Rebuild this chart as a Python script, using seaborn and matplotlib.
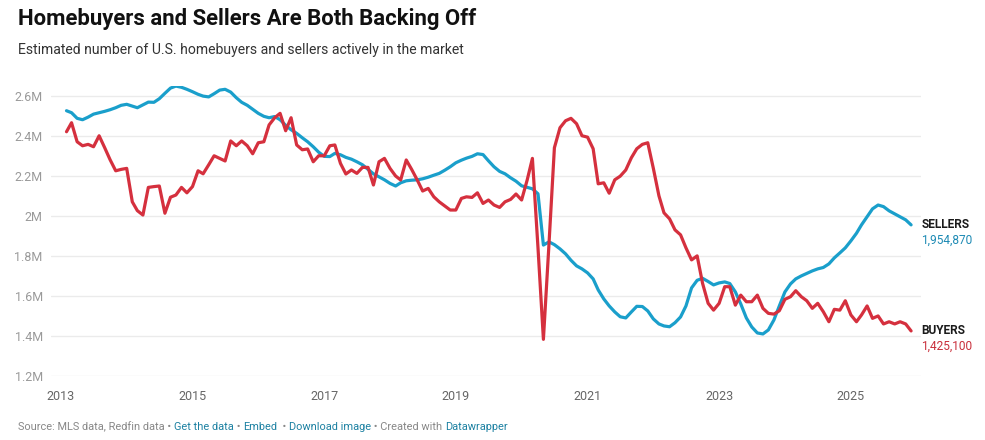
import numpy as np
import pandas as pd
import matplotlib
matplotlib.use("Agg")
import matplotlib.pyplot as plt
import seaborn as sns

# ---- data (millions), monthly Feb 2013 .. Dec 2025 ----
start_month = "2013-02-01"
sellers = [
    2.525, 2.515, 2.487, 2.480, 2.493, 2.508, 2.515, 2.522, 2.530, 2.540, 2.552, 2.557,
    2.548, 2.540, 2.554, 2.568, 2.567, 2.585, 2.612, 2.638, 2.648, 2.642, 2.632, 2.620,
    2.607, 2.598, 2.594, 2.610, 2.628, 2.632, 2.618, 2.590, 2.567, 2.552, 2.532, 2.512,
    2.497, 2.490, 2.496, 2.480, 2.452, 2.430, 2.412, 2.390, 2.370, 2.345, 2.318, 2.297,
    2.296, 2.312, 2.305, 2.292, 2.283, 2.270, 2.255, 2.232, 2.210, 2.195, 2.180, 2.162,
    2.149, 2.165, 2.175, 2.178, 2.180, 2.185, 2.193, 2.203, 2.212, 2.228, 2.245, 2.265,
    2.278, 2.288, 2.297, 2.310, 2.306, 2.275, 2.245, 2.222, 2.210, 2.190, 2.173, 2.150,
    2.142, 2.135, 2.110, 1.854, 1.870, 1.856, 1.835, 1.810, 1.778, 1.750, 1.735, 1.715,
    1.685, 1.630, 1.585, 1.550, 1.520, 1.496, 1.490, 1.520, 1.548, 1.547, 1.525, 1.485,
    1.460, 1.450, 1.446, 1.466, 1.495, 1.550, 1.640, 1.678, 1.688, 1.672, 1.655, 1.665,
    1.670, 1.662, 1.620, 1.560, 1.490, 1.445, 1.415, 1.410, 1.430, 1.480, 1.550, 1.620,
    1.660, 1.685, 1.700, 1.712, 1.725, 1.735, 1.742, 1.760, 1.790, 1.815, 1.840, 1.875,
    1.913, 1.955, 1.996, 2.035, 2.054, 2.046, 2.025, 2.010, 1.995, 1.980, 1.95487,
]
buyers = [
    2.420, 2.465, 2.370, 2.350, 2.357, 2.345, 2.400, 2.340, 2.280, 2.225, 2.232, 2.237,
    2.070, 2.026, 2.004, 2.142, 2.146, 2.149, 2.013, 2.093, 2.104, 2.142, 2.115, 2.146,
    2.225, 2.210, 2.255, 2.300, 2.287, 2.274, 2.374, 2.350, 2.374, 2.350, 2.310, 2.365,
    2.370, 2.454, 2.490, 2.512, 2.425, 2.490, 2.354, 2.330, 2.334, 2.270, 2.300, 2.300,
    2.350, 2.354, 2.262, 2.209, 2.229, 2.212, 2.242, 2.242, 2.154, 2.270, 2.287, 2.237,
    2.199, 2.179, 2.279, 2.232, 2.179, 2.124, 2.137, 2.095, 2.070, 2.049, 2.029, 2.029,
    2.087, 2.095, 2.092, 2.115, 2.062, 2.079, 2.054, 2.042, 2.070, 2.082, 2.109, 2.079,
    2.179, 2.287, 1.840, 1.383, 1.860, 2.340, 2.440, 2.475, 2.487, 2.460, 2.400, 2.393,
    2.335, 2.160, 2.165, 2.113, 2.180, 2.198, 2.229, 2.290, 2.335, 2.357, 2.365, 2.237,
    2.100, 2.015, 1.985, 1.930, 1.905, 1.840, 1.780, 1.800, 1.663, 1.563, 1.529, 1.563,
    1.646, 1.646, 1.554, 1.604, 1.571, 1.571, 1.604, 1.538, 1.513, 1.509, 1.526, 1.583,
    1.596, 1.626, 1.596, 1.576, 1.538, 1.563, 1.521, 1.471, 1.533, 1.529, 1.576, 1.505,
    1.471, 1.505, 1.550, 1.488, 1.500, 1.460, 1.471, 1.460, 1.471, 1.460, 1.4251,
]
series_names = ["SELLERS", "BUYERS"]
end_values = ["1,954,870", "1,425,100"]
y_ticks = [1.2, 1.4, 1.6, 1.8, 2.0, 2.2, 2.4, 2.6]
x_tick_years = [2013, 2015, 2017, 2019, 2021, 2023, 2025]

title = "Homebuyers and Sellers Are Both Backing Off"
subtitle = "Estimated number of U.S. homebuyers and sellers actively in the market"

dates = pd.date_range(start_month, periods=len(sellers), freq="MS")
df = pd.concat([
    pd.DataFrame({"date": dates, "value": sellers, "series": "SELLERS"}),
    pd.DataFrame({"date": dates, "value": buyers, "series": "BUYERS"}),
])

BLUE = "#1a9fcb"
RED = "#d5303e"
palette = {"SELLERS": BLUE, "BUYERS": RED}
num_colors = {"SELLERS": "#1d8ab4", "BUYERS": "#c92f3b"}

sns.set_theme(style="white")
plt.rcParams["font.family"] = ["Roboto", "DejaVu Sans"]

W, H = 985, 440
fig = plt.figure(figsize=(W / 100, H / 100), dpi=100)
ax_l, ax_r, ax_b, ax_t = 51, 921, 376, 85.7
ax = fig.add_axes([ax_l / W, 1 - ax_b / H, (ax_r - ax_l) / W, (ax_b - ax_t) / H])

sns.lineplot(data=df, x="date", y="value", hue="series", palette=palette,
             linewidth=2.3, legend=False, ax=ax, solid_joinstyle="round",
             solid_capstyle="round")

ax.set_ylim(1.2, 2.65)
ax.set_xlim(pd.Timestamp("2012-11-07"), pd.Timestamp("2026-01-25"))
ax.set_yticks(y_ticks)
ax.set_yticklabels([f"{v:g}M" for v in y_ticks])
ax.yaxis.grid(True, color="#ebebeb", linewidth=1.0)
ax.set_axisbelow(True)
ax.tick_params(axis="y", length=0, pad=6, labelsize=9, labelcolor="#9a9a9a")
ax.set_xticks([pd.Timestamp(f"{y}-01-01") for y in x_tick_years])
ax.set_xticklabels([str(y) for y in x_tick_years])
ax.tick_params(axis="x", direction="out", length=5, width=1, color="#333333",
               pad=5, labelsize=9, labelcolor="#666666")
for s in ax.spines.values():
    s.set_visible(False)
ax.set_xlabel("")
ax.set_ylabel("")

# end labels
for name, vals, num in zip(series_names, [sellers, buyers], end_values):
    ax.annotate(name, xy=(dates[-1], vals[-1]), xytext=(7.5, 0),
                textcoords="offset points", va="center", ha="left",
                fontsize=8.6, fontweight="bold", color="#1a1a1a",
                annotation_clip=False)
    ax.annotate(num, xy=(dates[-1], vals[-1]), xytext=(7.5, -11),
                textcoords="offset points", va="center", ha="left",
                fontsize=8.6, color=num_colors[name], annotation_clip=False)

fig.text(18 / W, 1 - 19 / H, title, fontsize=15.9, fontweight="bold",
         color="#111111", va="center", ha="left")
fig.text(18 / W, 1 - 50 / H, subtitle, fontsize=10.1, color="#333333",
         va="center", ha="left")

# footer
footer_parts = [
    ("Source: MLS data, Redfin data • ", "#888888"),
    ("Get the data", "#1d81a2"),
    (" • ", "#888888"),
    ("Embed", "#1d81a2"),
    ("  • ", "#888888"),
    ("Download image", "#1d81a2"),
    (" • Created with ", "#888888"),
    ("Datawrapper", "#1d81a2"),
]
fig.canvas.draw()
renderer = fig.canvas.get_renderer()
x_px = 18
for txt, col in footer_parts:
    t = fig.text(x_px / W, 1 - 427 / H, txt, fontsize=7.9, color=col,
                 va="center", ha="left")
    bb = t.get_window_extent(renderer=renderer)
    x_px += bb.width

fig.savefig("out.png", dpi=100)
